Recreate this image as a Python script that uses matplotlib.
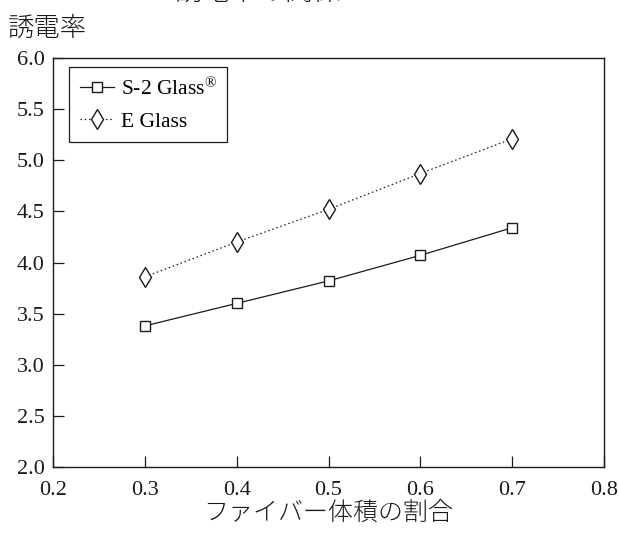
import matplotlib
matplotlib.use("Agg")
import matplotlib.pyplot as plt

# data
fiber_fraction = [0.3, 0.4, 0.5, 0.6, 0.7]
s2_glass = [3.38, 3.60, 3.82, 4.07, 4.34]
e_glass = [3.86, 4.20, 4.52, 4.87, 5.21]
series_labels = ["S-2 Glass$^{\\mathrm{®}}$", "E Glass"]
x_ticks = [0.2, 0.3, 0.4, 0.5, 0.6, 0.7, 0.8]
y_ticks = [2.0, 2.5, 3.0, 3.5, 4.0, 4.5, 5.0, 5.5, 6.0]
title_text = "誘電率の関係"
x_label = "ファイバー体積の割合"
y_label = "誘電率"

plt.rcParams['mathtext.fontset'] = 'custom'
plt.rcParams['mathtext.rm'] = 'Liberation Serif'
plt.rcParams['mathtext.it'] = 'Liberation Serif:italic'
plt.rcParams['mathtext.bf'] = 'Liberation Serif:bold'

W, H = 619, 533
fig = plt.figure(figsize=(W / 100, H / 100), dpi=100)
L, R, T, B = 53, 604, 58, 467
ax = fig.add_axes([L / W, 1 - B / H, (R - L) / W, (B - T) / H])

ink = "#1a1a1a"
ax.plot(fiber_fraction, s2_glass, color=ink, lw=0.9, ls='-', marker='s',
        ms=7.5, mfc='white', mec=ink, mew=1.0, label=series_labels[0])
ax.plot(fiber_fraction, e_glass, color=ink, lw=0.9, ls=(0, (1.2, 2.2)), marker='d',
        ms=10, mfc='white', mec=ink, mew=1.0, label=series_labels[1])

ax.set_xlim(0.2, 0.8)
ax.set_ylim(2.0, 6.0)
ax.set_xticks(x_ticks)
ax.set_yticks(y_ticks)
ax.set_xticklabels([f"{v:.1f}" for v in x_ticks])
ax.set_yticklabels([f"{v:.1f}" for v in y_ticks])

serif = ['Liberation Serif', 'DejaVu Serif']
for lbl in ax.get_xticklabels() + ax.get_yticklabels():
    lbl.set_family(serif)
    lbl.set_fontsize(16)
    lbl.set_color(ink)

ax.tick_params(axis='both', direction='in', length=8, width=0.9, colors=ink,
               top=False, right=False)
ax.tick_params(axis='x', pad=10)
ax.tick_params(axis='y', pad=6)
for s in ax.spines.values():
    s.set_linewidth(1.0)
    s.set_color(ink)

leg = ax.legend(loc='upper left', bbox_to_anchor=((69 - L) / (R - L), (B - 67) / (B - T)),
                borderaxespad=0, numpoints=1, handlelength=1.6, handletextpad=0.3,
                labelspacing=0.55, borderpad=0.5, fancybox=False, framealpha=1,
                edgecolor=ink, prop={'family': serif, 'size': 15.5})
leg.get_frame().set_linewidth(0.9)

cjk = ['Noto Sans CJK JP', 'DejaVu Sans']
fig.text(8 / W, 1 - 28 / H, y_label, family=cjk, fontsize=19, fontweight='light',
         ha='left', va='center', color=ink)
fig.text((L + R) / 2 / W, 1 - 513 / H, x_label, family=cjk, fontsize=18, fontweight='light',
         ha='center', va='center', color=ink)
fig.text(258 / W, 1 - 6 / H, title_text, family=cjk, fontsize=20, fontweight='light',
         ha='center', va='bottom', color=ink)

fig.savefig("out.png", dpi=100)
